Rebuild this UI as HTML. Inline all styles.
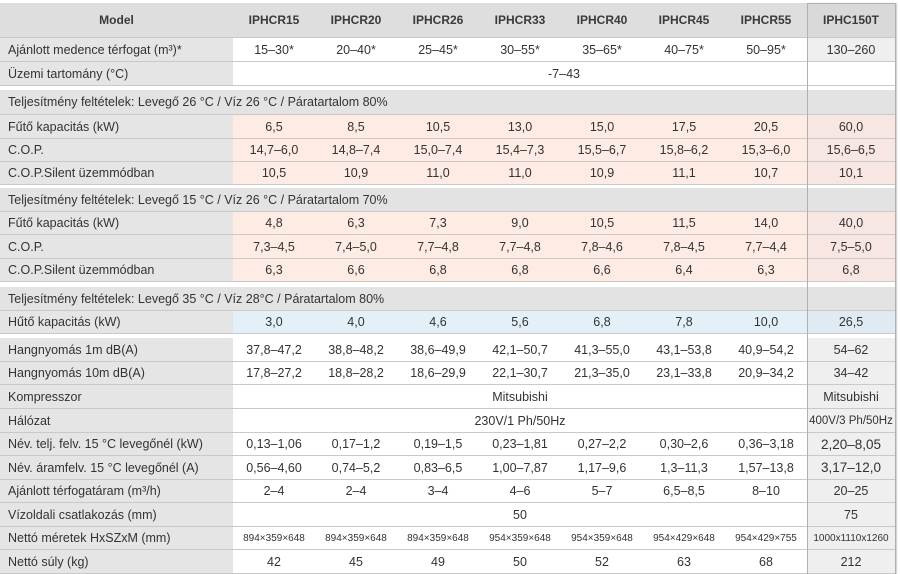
<!DOCTYPE html>
<html><head><meta charset="utf-8"><style>
*{margin:0;padding:0;box-sizing:border-box}
body{width:900px;height:574px;background:#fff;position:relative;overflow:hidden;font-family:"Liberation Sans",Arial,sans-serif;font-size:12.5px;color:#333}
.r{position:absolute;left:0;width:895px;display:flex;border-bottom:1px solid #c9c9c9}
.r>div{display:flex;align-items:center;justify-content:center;height:100%}
.l{width:233px;background:#e5e5e5;justify-content:flex-start!important;padding-left:8px}
.c{width:82px}
.w{width:574px}
.a{width:662px}
.z{width:88px;background:#efefef}
.p .c{background:#fdebe4}.p .z{background:#f8e6e2}
.b .c{background:#e4f0f8}.b .z{background:#dfeaf2}
.s .l{width:807px;background:#e3e3e3}.s .z{background:#e3e3e3}
.h>div{font-weight:bold;color:#3a3a3a;font-size:12px;background:#dedede}
.h .z{background:#d9d9d9}
.sm{font-size:10px}
.lg{font-size:13.5px}
#box{position:absolute;left:807px;top:3px;width:89px;height:571px;border:1px solid #b0b0b0;border-bottom:none;pointer-events:none;box-shadow:1px 0 1px #ccc}
</style></head><body>
<div class="r h" style="top:3px;height:35px"><div class="l" style="justify-content:center!important;padding-left:0;width:233px">Model</div><div class="c">IPHCR15</div><div class="c">IPHCR20</div><div class="c">IPHCR26</div><div class="c">IPHCR33</div><div class="c">IPHCR40</div><div class="c">IPHCR45</div><div class="c">IPHCR55</div><div class="z">IPHC150T</div></div>
<div class="r" style="top:38px;height:24px"><div class="l">Ajánlott medence térfogat (m³)*</div><div class="c">15–30*</div><div class="c">20–40*</div><div class="c">25–45*</div><div class="c">30–55*</div><div class="c">35–65*</div><div class="c">40–75*</div><div class="c">50–95*</div><div class="z">130–260</div></div>
<div class="r" style="top:62px;height:24px"><div class="l">Üzemi tartomány (°C)</div><div class="a">-7–43</div></div>

<div class="r s" style="top:90px;height:25px"><div class="l">Teljesítmény feltételek: Levegő 26 °C / Víz 26 °C / Páratartalom 80%</div><div class="z"></div></div>
<div class="r p" style="top:115px;height:24px"><div class="l">Fűtő kapacitás (kW)</div><div class="c">6,5</div><div class="c">8,5</div><div class="c">10,5</div><div class="c">13,0</div><div class="c">15,0</div><div class="c">17,5</div><div class="c">20,5</div><div class="z">60,0</div></div>
<div class="r p" style="top:139px;height:23px"><div class="l">C.O.P.</div><div class="c">14,7–6,0</div><div class="c">14,8–7,4</div><div class="c">15,0–7,4</div><div class="c">15,4–7,3</div><div class="c">15,5–6,7</div><div class="c">15,8–6,2</div><div class="c">15,3–6,0</div><div class="z">15,6–6,5</div></div>
<div class="r p" style="top:162px;height:23px"><div class="l">C.O.P.Silent üzemmódban</div><div class="c">10,5</div><div class="c">10,9</div><div class="c">11,0</div><div class="c">11,0</div><div class="c">10,9</div><div class="c">11,1</div><div class="c">10,7</div><div class="z">10,1</div></div>

<div class="r s" style="top:188px;height:24px"><div class="l">Teljesítmény feltételek: Levegő 15 °C / Víz 26 °C / Páratartalom 70%</div><div class="z"></div></div>
<div class="r p" style="top:212px;height:23px"><div class="l">Fűtő kapacitás (kW)</div><div class="c">4,8</div><div class="c">6,3</div><div class="c">7,3</div><div class="c">9,0</div><div class="c">10,5</div><div class="c">11,5</div><div class="c">14,0</div><div class="z">40,0</div></div>
<div class="r p" style="top:235px;height:24px"><div class="l">C.O.P.</div><div class="c">7,3–4,5</div><div class="c">7,4–5,0</div><div class="c">7,7–4,8</div><div class="c">7,7–4,8</div><div class="c">7,8–4,6</div><div class="c">7,8–4,5</div><div class="c">7,7–4,4</div><div class="z">7,5–5,0</div></div>
<div class="r p" style="top:259px;height:23px"><div class="l">C.O.P.Silent üzemmódban</div><div class="c">6,3</div><div class="c">6,6</div><div class="c">6,8</div><div class="c">6,8</div><div class="c">6,6</div><div class="c">6,4</div><div class="c">6,3</div><div class="z">6,8</div></div>

<div class="r s" style="top:287px;height:24px"><div class="l">Teljesítmény feltételek: Levegő 35 °C / Víz 28°C / Páratartalom 80%</div><div class="z"></div></div>
<div class="r b" style="top:311px;height:23px"><div class="l">Hűtő kapacitás (kW)</div><div class="c">3,0</div><div class="c">4,0</div><div class="c">4,6</div><div class="c">5,6</div><div class="c">6,8</div><div class="c">7,8</div><div class="c">10,0</div><div class="z">26,5</div></div>

<div class="r" style="top:338px;height:24px"><div class="l">Hangnyomás 1m dB(A)</div><div class="c">37,8–47,2</div><div class="c">38,8–48,2</div><div class="c">38,6–49,9</div><div class="c">42,1–50,7</div><div class="c">41,3–55,0</div><div class="c">43,1–53,8</div><div class="c">40,9–54,2</div><div class="z">54–62</div></div>
<div class="r" style="top:362px;height:23px"><div class="l">Hangnyomás 10m dB(A)</div><div class="c">17,8–27,2</div><div class="c">18,8–28,2</div><div class="c">18,6–29,9</div><div class="c">22,1–30,7</div><div class="c">21,3–35,0</div><div class="c">23,1–33,8</div><div class="c">20,9–34,2</div><div class="z">34–42</div></div>
<div class="r" style="top:385px;height:24px"><div class="l">Kompresszor</div><div class="w">Mitsubishi</div><div class="z">Mitsubishi</div></div>
<div class="r" style="top:409px;height:24px"><div class="l">Hálózat</div><div class="w">230V/1 Ph/50Hz</div><div class="z" style="font-size:11.5px">400V/3 Ph/50Hz</div></div>
<div class="r" style="top:433px;height:23px"><div class="l">Név. telj. felv. 15 °C levegőnél (kW)</div><div class="c">0,13–1,06</div><div class="c">0,17–1,2</div><div class="c">0,19–1,5</div><div class="c">0,23–1,81</div><div class="c">0,27–2,2</div><div class="c">0,30–2,6</div><div class="c">0,36–3,18</div><div class="z lg">2,20–8,05</div></div>
<div class="r" style="top:456px;height:24px"><div class="l">Név. áramfelv. 15 °C levegőnél (A)</div><div class="c">0,56–4,60</div><div class="c">0,74–5,2</div><div class="c">0,83–6,5</div><div class="c">1,00–7,87</div><div class="c">1,17–9,6</div><div class="c">1,3–11,3</div><div class="c">1,57–13,8</div><div class="z lg">3,17–12,0</div></div>
<div class="r" style="top:480px;height:23px"><div class="l">Ajánlott térfogatáram (m³/h)</div><div class="c">2–4</div><div class="c">2–4</div><div class="c">3–4</div><div class="c">4–6</div><div class="c">5–7</div><div class="c">6,5–8,5</div><div class="c">8–10</div><div class="z">20–25</div></div>
<div class="r" style="top:503px;height:24px"><div class="l">Vízoldali csatlakozás (mm)</div><div class="w">50</div><div class="z">75</div></div>
<div class="r" style="top:527px;height:23px"><div class="l">Nettó méretek HxSZxM (mm)</div><div class="c sm">894×359×648</div><div class="c sm">894×359×648</div><div class="c sm">894×359×648</div><div class="c sm">954×359×648</div><div class="c sm">954×359×648</div><div class="c sm">954×429×648</div><div class="c sm">954×429×755</div><div class="z sm">1000x1110x1260</div></div>
<div class="r" style="top:550px;height:24px"><div class="l">Nettó súly (kg)</div><div class="c">42</div><div class="c">45</div><div class="c">49</div><div class="c">50</div><div class="c">52</div><div class="c">63</div><div class="c">68</div><div class="z">212</div></div>
<div id="box"></div>
</body></html>
